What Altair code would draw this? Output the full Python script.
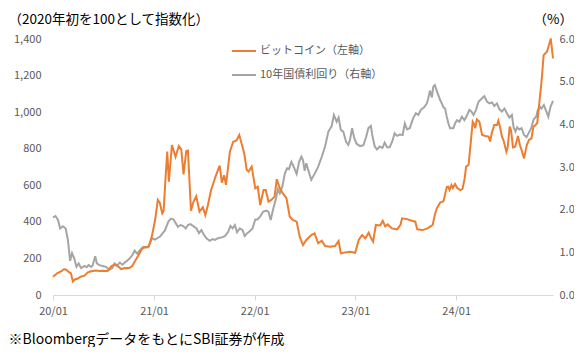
import altair as alt
import pandas as pd

BTC_LABEL = "ビットコイン（左軸）"
UST_LABEL = "10年国債利回り（右軸）"
LEFT_TITLE = "（2020年初を100として指数化）"
RIGHT_TITLE = "（%）"
NOTE = "※BloombergデータをもとにSBI証券が作成"

btc_dates = [
    "2020-01-01", "2020-01-17", "2020-02-01", "2020-02-10", "2020-02-19", "2020-02-28",
    "2020-03-06", "2020-03-13", "2020-03-20", "2020-03-31", "2020-04-10", "2020-04-24",
    "2020-05-06", "2020-05-18", "2020-06-05", "2020-06-19", "2020-07-01", "2020-07-17",
    "2020-07-31", "2020-08-10", "2020-08-21", "2020-09-04", "2020-09-18", "2020-10-02",
    "2020-10-14", "2020-10-26", "2020-11-06", "2020-11-18", "2020-11-30", "2020-12-12",
    "2020-12-24", "2021-01-05", "2021-01-15", "2021-01-22", "2021-01-31", "2021-02-05",
    "2021-02-11", "2021-02-18", "2021-02-24", "2021-03-07", "2021-03-20", "2021-04-01",
    "2021-04-10", "2021-04-18", "2021-04-28", "2021-05-04", "2021-05-15", "2021-05-24",
    "2021-06-03", "2021-06-15", "2021-06-27", "2021-07-06", "2021-07-15", "2021-07-27",
    "2021-08-12", "2021-08-27", "2021-09-04", "2021-09-12", "2021-09-19", "2021-10-03",
    "2021-10-15", "2021-10-27", "2021-11-06", "2021-11-24", "2021-12-03", "2021-12-10",
    "2021-12-21", "2022-01-03", "2022-01-12", "2022-01-21", "2022-02-02", "2022-02-10",
    "2022-02-20", "2022-03-02", "2022-03-14", "2022-03-22", "2022-04-02", "2022-04-13",
    "2022-04-26", "2022-05-08", "2022-05-19", "2022-06-02", "2022-06-13", "2022-06-25",
    "2022-07-07", "2022-07-25", "2022-08-06", "2022-08-19", "2022-09-01", "2022-09-13",
    "2022-10-01", "2022-10-19", "2022-11-01", "2022-11-09", "2022-11-25", "2022-12-13",
    "2022-12-31", "2023-01-13", "2023-01-25", "2023-02-06", "2023-02-18", "2023-02-27",
    "2023-03-06", "2023-03-16", "2023-04-01", "2023-04-10", "2023-04-19", "2023-04-28",
    "2023-05-13", "2023-06-01", "2023-06-13", "2023-06-19", "2023-07-07", "2023-07-25",
    "2023-08-06", "2023-08-13", "2023-09-01", "2023-09-19", "2023-09-30", "2023-10-08",
    "2023-10-16", "2023-10-23", "2023-11-04", "2023-11-16", "2023-11-28", "2023-12-03",
    "2023-12-08", "2023-12-15", "2023-12-20", "2023-12-28", "2024-01-05", "2024-01-16",
    "2024-01-24", "2024-02-01", "2024-02-06", "2024-02-15", "2024-02-22", "2024-03-01",
    "2024-03-06", "2024-03-10", "2024-03-16", "2024-03-25", "2024-04-04", "2024-04-16",
    "2024-04-28", "2024-05-03", "2024-05-09", "2024-05-18", "2024-05-28", "2024-06-02",
    "2024-06-09", "2024-06-15", "2024-06-21", "2024-07-01", "2024-07-06", "2024-07-13",
    "2024-07-18", "2024-07-25", "2024-08-02", "2024-08-12", "2024-08-19", "2024-08-25",
    "2024-09-03", "2024-09-13", "2024-09-21", "2024-09-30", "2024-10-07", "2024-10-15",
    "2024-10-21", "2024-10-27", "2024-11-06", "2024-11-13", "2024-11-25", "2024-12-03",
    "2024-12-09", "2024-12-17",
]
btc_values = [
    100, 120, 130, 142, 137, 125,
    118, 74, 85, 90, 100, 106,
    124, 130, 134, 131, 133, 131,
    158, 165, 160, 142, 148, 147,
    158, 190, 218, 252, 262, 262,
    319, 410, 520, 505, 447, 460,
    620, 784, 620, 820, 756, 815,
    795, 660, 787, 790, 461, 510,
    540, 456, 480, 437, 490, 574,
    647, 707, 614, 655, 602, 784,
    838, 845, 875, 775, 684, 675,
    702, 583, 592, 492, 574, 574,
    510, 520, 538, 633, 583, 556,
    529, 428, 410, 401, 319, 273,
    301, 328, 337, 283, 297, 268,
    264, 268, 295, 228, 233, 237,
    231, 301, 328, 310, 341, 310,
    292, 383, 380, 406, 375, 386,
    364, 359, 383, 419, 415, 406,
    401, 359, 355, 364, 375, 383,
    440, 474, 505, 512, 590, 592,
    575, 601, 585, 607, 585, 574,
    580, 638, 702, 711, 820, 948,
    935, 912, 960, 948, 875, 870,
    866, 839, 884, 930, 930, 954,
    912, 866, 845, 784, 811, 921,
    900, 807, 811, 870, 820, 793,
    747, 820, 848, 857, 921, 930,
    942, 1030, 1176, 1312, 1330, 1370,
    1403, 1294,
]

ust_dates = [
    "2020-01-01", "2020-01-10", "2020-01-19", "2020-01-27", "2020-02-06", "2020-02-16",
    "2020-02-24", "2020-03-03", "2020-03-10", "2020-03-18", "2020-03-26", "2020-04-03",
    "2020-04-12", "2020-04-24", "2020-05-02", "2020-05-09", "2020-05-18", "2020-05-24",
    "2020-06-02", "2020-06-08", "2020-06-17", "2020-06-29", "2020-07-11", "2020-07-23",
    "2020-08-03", "2020-08-11", "2020-08-20", "2020-08-30", "2020-09-09", "2020-09-17",
    "2020-09-25", "2020-10-05", "2020-10-15", "2020-10-23", "2020-11-01", "2020-11-11",
    "2020-11-23", "2020-12-05", "2020-12-14", "2020-12-25", "2021-01-05", "2021-01-13",
    "2021-01-23", "2021-02-10", "2021-02-22", "2021-03-04", "2021-03-13", "2021-03-20",
    "2021-03-29", "2021-04-07", "2021-04-16", "2021-04-26", "2021-05-04", "2021-05-13",
    "2021-05-22", "2021-06-04", "2021-06-13", "2021-06-22", "2021-06-30", "2021-07-10",
    "2021-07-22", "2021-08-01", "2021-08-10", "2021-08-21", "2021-09-03", "2021-09-15",
    "2021-09-27", "2021-10-05", "2021-10-13", "2021-10-21", "2021-10-29", "2021-11-08",
    "2021-11-18", "2021-11-26", "2021-12-05", "2021-12-15", "2021-12-24", "2022-01-03",
    "2022-01-11", "2022-01-21", "2022-01-31", "2022-02-12", "2022-02-20", "2022-02-28",
    "2022-03-08", "2022-03-18", "2022-03-26", "2022-04-02", "2022-04-11", "2022-04-20",
    "2022-04-28", "2022-05-05", "2022-05-14", "2022-05-22", "2022-06-02", "2022-06-11",
    "2022-06-19", "2022-06-25", "2022-07-01", "2022-07-07", "2022-07-13", "2022-07-25",
    "2022-08-07", "2022-08-19", "2022-09-01", "2022-09-13", "2022-09-25", "2022-10-07",
    "2022-10-15", "2022-10-25", "2022-11-01", "2022-11-09", "2022-11-18", "2022-11-28",
    "2022-12-06", "2022-12-12", "2022-12-20", "2022-12-28", "2023-01-06", "2023-01-18",
    "2023-01-30", "2023-02-09", "2023-02-17", "2023-02-26", "2023-03-03", "2023-03-12",
    "2023-03-20", "2023-03-30", "2023-04-09", "2023-04-17", "2023-04-26", "2023-05-05",
    "2023-05-15", "2023-05-23", "2023-06-01", "2023-06-11", "2023-06-21", "2023-06-29",
    "2023-07-07", "2023-07-17", "2023-07-29", "2023-08-08", "2023-08-17", "2023-08-26",
    "2023-09-07", "2023-09-17", "2023-09-22", "2023-09-28", "2023-10-05", "2023-10-10",
    "2023-10-16", "2023-10-22", "2023-10-28", "2023-11-04", "2023-11-10", "2023-11-16",
    "2023-11-22", "2023-11-28", "2023-12-04", "2023-12-10", "2023-12-22", "2023-12-28",
    "2024-01-04", "2024-01-13", "2024-01-22", "2024-01-31", "2024-02-10", "2024-02-18",
    "2024-02-25", "2024-03-04", "2024-03-13", "2024-03-22", "2024-04-04", "2024-04-12",
    "2024-04-22", "2024-05-01", "2024-05-10", "2024-05-18", "2024-05-28", "2024-06-06",
    "2024-06-15", "2024-06-24", "2024-07-03", "2024-07-12", "2024-07-21", "2024-07-27",
    "2024-08-03", "2024-08-09", "2024-08-17", "2024-08-25", "2024-09-03", "2024-09-12",
    "2024-09-20", "2024-09-29", "2024-10-08", "2024-10-17", "2024-10-23", "2024-10-31",
    "2024-11-05", "2024-11-14", "2024-11-23", "2024-11-30", "2024-12-08", "2024-12-17",
]
ust_values = [
    1.82, 1.85, 1.76, 1.56, 1.61, 1.56,
    1.29, 0.80, 0.98, 0.86, 0.66, 0.74,
    0.63, 0.68, 0.65, 0.70, 0.66, 0.70,
    0.91, 0.74, 0.70, 0.68, 0.66, 0.59,
    0.63, 0.74, 0.69, 0.76, 0.71, 0.76,
    0.80, 0.86, 0.94, 1.04, 0.97, 1.05,
    1.13, 1.11, 1.15, 1.33, 1.30, 1.33,
    1.37, 1.52, 1.72, 1.79, 1.77, 1.69,
    1.60, 1.64, 1.62, 1.56, 1.64, 1.66,
    1.62, 1.56, 1.45, 1.52, 1.42, 1.33,
    1.27, 1.31, 1.29, 1.33, 1.35, 1.38,
    1.48, 1.62, 1.56, 1.64, 1.47, 1.56,
    1.52, 1.38, 1.45, 1.50, 1.56, 1.77,
    1.77, 1.84, 1.95, 1.98, 1.95, 1.76,
    1.99, 2.23, 2.48, 2.38, 2.54, 2.84,
    2.97, 2.95, 3.12, 3.01, 2.84, 3.12,
    3.24, 3.16, 2.91, 3.09, 2.95, 2.70,
    2.85, 3.01, 3.24, 3.48, 3.83, 3.96,
    4.22, 4.06, 4.16, 3.87, 3.83, 3.59,
    3.52, 3.63, 3.91, 3.67, 3.54, 3.49,
    3.51, 3.71, 3.91, 3.96, 3.75, 3.48,
    3.41, 3.48, 3.45, 3.57, 3.46, 3.46,
    3.61, 3.79, 3.73, 3.76, 3.75, 4.02,
    3.88, 3.91, 4.14, 4.26, 4.22, 4.34,
    4.40, 4.49, 4.61, 4.79, 4.63, 4.88,
    4.92, 4.80, 4.69, 4.57, 4.49, 4.40,
    4.37, 4.18, 4.02, 3.91, 3.91, 4.02,
    4.10, 4.06, 4.18, 4.10, 4.22, 4.34,
    4.30, 4.22, 4.34, 4.53, 4.61, 4.66,
    4.53, 4.49, 4.51, 4.43, 4.49, 4.35,
    4.30, 4.37, 4.26, 4.16, 4.22, 3.94,
    3.83, 3.93, 3.88, 3.91, 3.75, 3.70,
    3.80, 3.91, 4.12, 4.18, 4.34, 4.41,
    4.37, 4.45, 4.30, 4.18, 4.41, 4.55,
]

left_ticks = [0, 200, 400, 600, 800, 1000, 1200, 1400]
right_ticks = [0, 1, 2, 3, 4, 5, 6]
year_ticks = [2020, 2021, 2022, 2023, 2024]

ORANGE = "#ED7D31"
GRAY = "#A5A5A5"
LABEL_GRAY = "#595959"
FONT = "Noto Sans CJK JP"

btc = pd.DataFrame({"date": btc_dates, "value": btc_values, "series": BTC_LABEL})
ust = pd.DataFrame({"date": ust_dates, "value": ust_values, "series": UST_LABEL})

x_enc = alt.X(
    "date:T",
    scale=alt.Scale(type="utc", nice=False),
    axis=alt.Axis(
        values=[alt.DateTime(year=y, month=1, date=1, utc=True) for y in year_ticks],
        format="%y/%m",
        labelFlush=False,
        labelOverlap=False,
        labelColor=LABEL_GRAY,
        labelFontSize=11,
        labelFont=FONT,
        labelPadding=5,
        domainColor="#D9D9D9",
        tickColor="#D9D9D9",
        tickSize=5,
        grid=False,
        title=NOTE,
        titleAngle=0,
        titleAlign="left",
        titleBaseline="middle",
        titleX=-45,
        titleY=44,
        titleFont=FONT,
        titleFontSize=14,
        titleFontWeight="normal",
        titleColor="#000000",
    ),
)

color_enc = alt.Color(
    "series:N",
    scale=alt.Scale(domain=[BTC_LABEL, UST_LABEL], range=[ORANGE, GRAY]),
    legend=alt.Legend(
        orient="none",
        legendX=178,
        legendY=-1,
        title=None,
        symbolType="stroke",
        symbolSize=576,
        symbolStrokeWidth=2,
        labelFontSize=11,
        labelFont=FONT,
        labelColor=LABEL_GRAY,
        rowPadding=6,
        labelOffset=3,
        padding=0,
    ),
)

btc_line = alt.Chart(btc).mark_line(strokeWidth=2).encode(
    x=x_enc,
    y=alt.Y(
        "value:Q",
        scale=alt.Scale(domain=[0, 1400], nice=False),
        axis=alt.Axis(
            values=left_ticks,
            format=",d",
            domain=False,
            ticks=False,
            grid=False,
            labelColor=LABEL_GRAY,
            labelFontSize=11,
            labelFont=FONT,
            labelPadding=12,
            title=LEFT_TITLE,
            titleAngle=0,
            titleAlign="left",
            titleBaseline="middle",
            titleX=-45,
            titleY=-20,
            titleFont=FONT,
            titleFontSize=13.5,
            titleFontWeight="normal",
            titleColor="#000000",
        ),
    ),
    color=color_enc,
)

ust_line = alt.Chart(ust).mark_line(strokeWidth=2).encode(
    x=x_enc,
    y=alt.Y(
        "value:Q",
        scale=alt.Scale(domain=[0, 6], nice=False),
        axis=alt.Axis(
            orient="right",
            values=right_ticks,
            format=".1f",
            domain=False,
            ticks=False,
            grid=False,
            labelColor=LABEL_GRAY,
            labelFontSize=11,
            labelFont=FONT,
            labelPadding=6,
            title=RIGHT_TITLE,
            titleAngle=0,
            titleAlign="left",
            titleBaseline="middle",
            titleX=-20,
            titleY=-20,
            titleFont=FONT,
            titleFontSize=13.5,
            titleFontWeight="normal",
            titleColor="#000000",
        ),
    ),
    color=color_enc,
)

chart = (
    alt.layer(ust_line, btc_line)
    .resolve_scale(y="independent")
    .properties(
        width=500,
        height=256,
        autosize=alt.AutoSizeParams(type="none"),
        padding={"left": 45, "top": 31, "right": 21, "bottom": 52},
        background="white",
    )
    .configure_view(stroke=None)
)

chart.save("out.html", embed_options={"renderer": "svg", "actions": False})
